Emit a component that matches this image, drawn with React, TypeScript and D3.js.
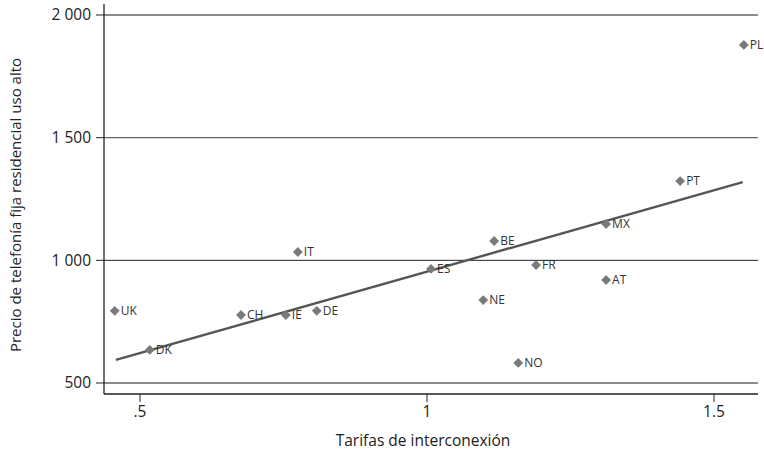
import React from "react";
import * as d3 from "d3";

const countries = ["PL", "PT", "MX", "BE", "FR", "AT", "ES", "NE", "NO", "IT", "DE", "IE", "CH", "UK", "DK"];
const tarifas = [1.552, 1.441, 1.312, 1.117, 1.19, 1.312, 1.007, 1.098, 1.159, 0.775, 0.808, 0.754, 0.676, 0.456, 0.517];
const precios = [1878, 1323, 1148, 1079, 981, 920, 965, 838, 582, 1034, 794, 777, 777, 794, 635];
const trendX = [0.458, 1.55];
const trendY = [594, 1319];
const yTicks = [500, 1000, 1500, 2000];
const xTicks = [0.5, 1, 1.5];

const W = 764;
const H = 453;
const left = 104;
const right = 758;
const top = 4;
const bottom = 394;

const x = d3.scaleLinear().domain([0.5, 1.5]).range([140, 714]);
const y = d3.scaleLinear().domain([500, 2000]).range([383, 15]);

const yFmt = (v: number) => d3.format(",")(v).replace(/,/g, " ");
const xFmt = (v: number) => (v < 1 ? String(v).replace(/^0/, "") : String(v));

const FONT = "'Open Sans', sans-serif";

export default function App() {
  const diamond = d3.symbol().type(d3.symbolDiamond2).size(62)();
  const line = d3
    .line<number>()
    .x((d) => x(trendX[d]))
    .y((d) => y(trendY[d]))([0, 1]);
  return (
    <svg width={W} height={H} style={{ position: "absolute", left: 0, top: 0, background: "#fff" }}>
      {yTicks.map((t) => (
        <g key={t}>
          <line x1={left} x2={right} y1={y(t)} y2={y(t)} stroke={t === 1000 ? "#222" : "#666"} strokeWidth={t === 1000 ? 1 : 1.4} />
          <line x1={left - 8} x2={left} y1={y(t)} y2={y(t)} stroke="#222" strokeWidth={1} />
          <text x={left - 13} y={y(t)} dy="0.35em" textAnchor="end" fontFamily={FONT} fontSize={15.5} fill="#222">
            {yFmt(t)}
          </text>
        </g>
      ))}
      {xTicks.map((t) => (
        <g key={t}>
          <line x1={x(t)} x2={x(t)} y1={bottom} y2={bottom + 8} stroke="#222" strokeWidth={1} />
          <text x={x(t)} y={bottom + 23} textAnchor="middle" fontFamily={FONT} fontSize={15.5} fill="#222">
            {xFmt(t)}
          </text>
        </g>
      ))}
      <line x1={left} x2={left} y1={top} y2={bottom} stroke="#222" strokeWidth={1.3} />
      <line x1={left} x2={right} y1={bottom} y2={bottom} stroke="#222" strokeWidth={1.3} />
      <path d={line ?? ""} fill="none" stroke="#555" strokeWidth={2.4} />
      {countries.map((c, i) => (
        <g key={c} transform={`translate(${x(tarifas[i])},${y(precios[i])})`}>
          <path d={diamond ?? ""} fill="#7a7a7a" />
          <text x={6} dy="0.35em" fontFamily={FONT} fontSize={12} fill="#333">
            {c}
          </text>
        </g>
      ))}
      <text x={423} y={446} textAnchor="middle" fontFamily={FONT} fontSize={15.5} fill="#222">
        Tarifas de interconexión
      </text>
      <text transform="translate(21,205) rotate(-90)" textAnchor="middle" fontFamily={FONT} fontSize={15} fill="#222">
        Precio de telefonía fija residencial uso alto
      </text>
    </svg>
  );
}
